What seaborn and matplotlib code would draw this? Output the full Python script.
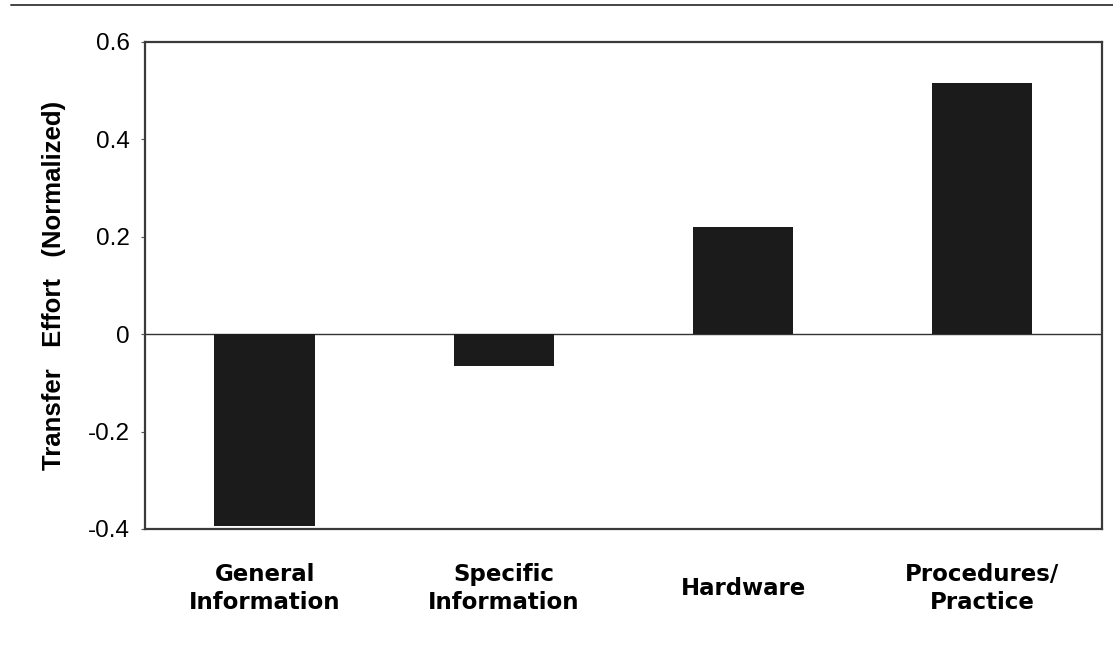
import matplotlib
matplotlib.use("Agg")
import matplotlib.pyplot as plt
from matplotlib.lines import Line2D
import seaborn as sns
import pandas as pd

categories = ["General\nInformation", "Specific\nInformation", "Hardware", "Procedures/\nPractice"]
effort = [-0.395, -0.065, 0.22, 0.515]
y_ticks = [-0.4, -0.2, 0, 0.2, 0.4, 0.6]
y_tick_labels = ["-0.4", "-0.2", "0", "0.2", "0.4", "0.6"]

sns.set_theme(style="white")
plt.rcParams["font.family"] = ["Liberation Sans", "DejaVu Sans"]
plt.rcParams["text.color"] = "black"
plt.rcParams["axes.labelcolor"] = "black"
plt.rcParams["xtick.color"] = "black"
plt.rcParams["ytick.color"] = "black"

df = pd.DataFrame({"category": categories, "effort": effort})

fig = plt.figure(figsize=(11.13, 6.45), dpi=100)
ax = fig.add_axes([0.1303, 0.180, 0.8597, 0.755])

sns.barplot(data=df, x="category", y="effort", color="#1b1b1b",
            saturation=1, width=0.42, linewidth=0, ax=ax)

ax.axhline(0, color="#333333", lw=1.0, zorder=0)
ax.set_xlim(-0.5, 3.5)
ax.set_ylim(-0.4, 0.6)
ax.set_yticks(y_ticks)
ax.set_yticklabels(y_tick_labels, fontsize=17.5)
ax.tick_params(axis="y", which="major", left=True, length=3, width=0.8,
               color="#555555", pad=8)
ax.tick_params(axis="x", bottom=False, length=0, pad=43)
for lbl in ax.get_xticklabels():
    lbl.set_fontsize(16.5)
    lbl.set_fontweight("bold")
    lbl.set_family(["DejaVu Sans"])
    lbl.set_linespacing(1.25)
    lbl.set_verticalalignment("center")
    lbl.set_multialignment("center")

ax.set_xlabel("")
ax.set_ylabel("Transfer   Effort   (Normalized)", fontsize=18.5,
              fontweight="bold", labelpad=16)

for side in ["left", "right", "top", "bottom"]:
    ax.spines[side].set_visible(True)
    ax.spines[side].set_color("#3a3a3a")
    ax.spines[side].set_linewidth(1.6)

# page rule running along the top edge
fig.add_artist(Line2D([0.01, 1.0], [0.992, 0.992], color="#444444", lw=1.4,
                      transform=fig.transFigure))

fig.savefig("out.png", dpi=100, facecolor="white")
